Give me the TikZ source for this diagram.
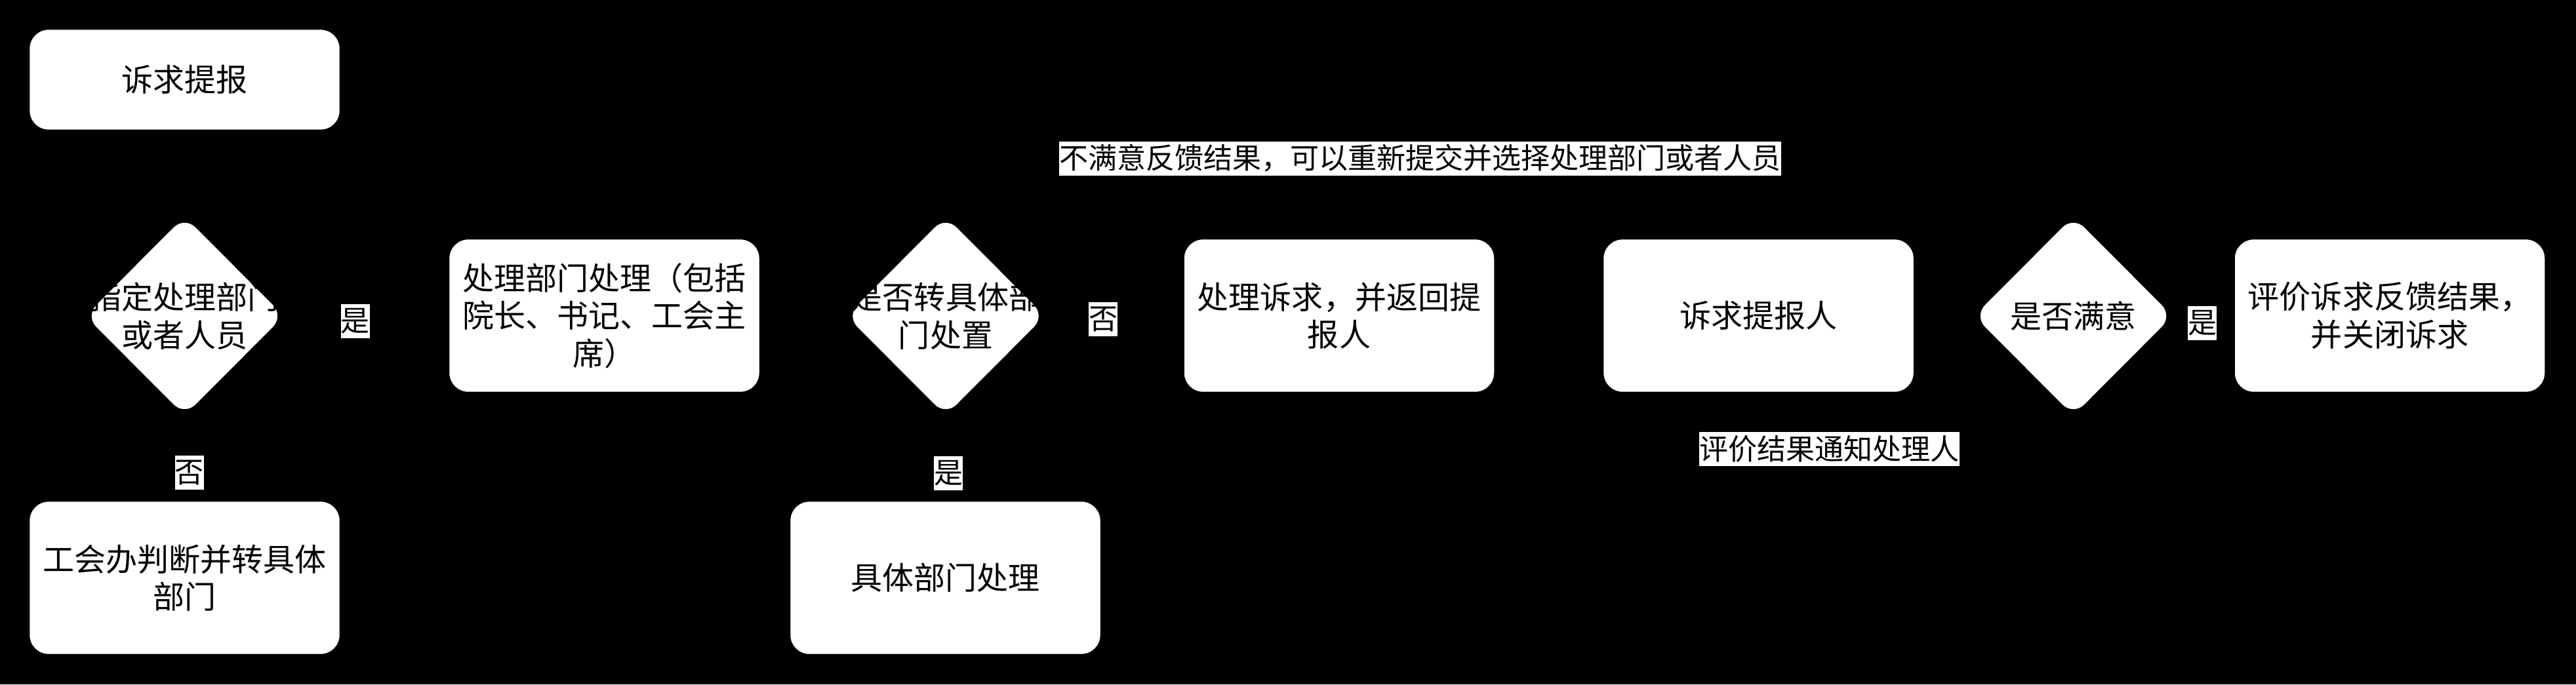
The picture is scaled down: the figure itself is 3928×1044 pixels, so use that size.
\documentclass[tikz,border=0pt]{standalone}
\usepackage{fontspec}
\setmainfont{Noto Sans CJK SC}
\usetikzlibrary{shapes.geometric,arrows.meta}
\newcommand\nfont{\fontsize{13.66pt}{16.3pt}\selectfont}
\newcommand\lfont{\fontsize{12.52pt}{15pt}\selectfont}
\tikzset{
  box/.style={draw=black, line width=0.8pt, fill=white, rounded corners=0.3cm,
    minimum width=4.75cm, minimum height=2.35cm, inner sep=0pt, align=center,
    font=\nfont, text=black},
  dia/.style={draw=black, line width=0.8pt, fill=white, shape=diamond, rounded corners=0.25cm,
    minimum width=3.08cm, minimum height=3.09cm, inner sep=0pt},
  dtext/.style={align=center, font=\nfont, text=black, inner sep=0pt},
  lab/.style={fill=white, text=black, font=\lfont, inner xsep=0pt, inner ysep=0pt,
    minimum height=0.52cm},
  conn/.style={draw=black, line width=1pt, -{Triangle[length=8pt,width=8pt]}}
}
\begin{document}
\begin{tikzpicture}[x=0.01cm, y=-0.01cm]
\useasboundingbox (0,0) rectangle (3928,1044);
\fill[black] (0,0) rectangle (3928,1044);

% process nodes
\node[box, minimum height=1.55cm] (a) at (281.5,121.5) {诉求提报};
\node[box] (b) at (921.5,481.5) {处理部门处理（包括\\院长、书记、工会主\\席）};
\node[box] (w) at (281.5,881.5) {工会办判断并转具体\\部门};
\node[box] (j) at (1441.5,881.5) {具体部门处理};
\node[box] (c) at (2042,481.5) {处理诉求，并返回提\\报人};
\node[box] (r) at (2681.5,481.5) {诉求提报人};
\node[box] (e) at (3644,481.5) {评价诉求反馈结果，\\并关闭诉求};

% decisions
\node[dia] (d1) at (281.5,482) {};
\node[dtext] (d1t) at (d1) {指定处理部门\\或者人员};
\node[dia] (d2) at (1442,482) {};
\node[dtext] (d2t) at (d2) {是否转具体部\\门处置};
\node[dia] (d3) at (3161.5,482) {};
\node[dtext] (d3t) at (d3) {是否满意};

% helper coordinates
\coordinate (fbR) at (3161.5,241);
\coordinate (fbL) at (921.5,241);
\coordinate (evR) at (3644,685);
\coordinate (evL) at (2042,685);

% connectors (black, as in the reference)
\draw[conn] (a) -- (d1);
\draw[conn] (d1) -- (b);
\draw[conn] (d1) -- (w);
\draw[conn] (b) -- (d2);
\draw[conn] (d2) -- (c);
\draw[conn] (d2) -- (j);
\draw[conn] (w) -- (j);
\draw[conn] (j) -| (c);
\draw[conn] (c) -- (r);
\draw[conn] (r) -- (d3);
\draw[conn] (d3) -- (e);
\draw[conn] (d3.north) -- (fbR) -- (fbL) -- (b.north);
\draw[conn] (e.south) -- (evR) -- (evL) -- (c.south);

% edge labels
\node[lab] (l1) at (542,490) {是};
\node[lab] (l2) at (289,721) {否};
\node[lab] (l3) at (1682,487) {否};
\node[lab] (l4) at (1446,722) {是};
\node[lab] (l5) at (3358,493) {是};
\node[lab] (l6) at (2165.5,241.5) {不满意反馈结果，可以重新提交并选择处理部门或者人员};
\node[lab] (l7) at (2789.5,685) {评价结果通知处理人};
\end{tikzpicture}
\end{document}
